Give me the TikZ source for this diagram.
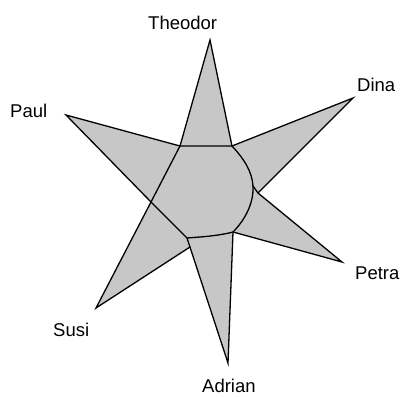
\documentclass[tikz,border=0pt]{standalone}
\usepackage{fontspec}
\setmainfont{Liberation Sans}
\begin{document}
\begin{tikzpicture}[x=1pt,y=-1pt,
  edge/.style={line width=1.3pt, line join=miter, line cap=round},
  shade/.style={fill=black!22},
  lbl/.style={font=\fontsize{18.5}{20}\selectfont, inner sep=0pt, anchor=base west}]
\useasboundingbox (0,0) rectangle (400,397);
% spike tips
\coordinate (TT) at (210,40);
\coordinate (DT) at (353,98);
\coordinate (PeT) at (342,262);
\coordinate (AT) at (228,363);
\coordinate (ST) at (96,308);
\coordinate (PaT) at (66,115);
% central figure
\coordinate (H1) at (180,146);
\coordinate (H2) at (232,146);
\coordinate (H3) at (253,186);
\coordinate (N) at (258,193);
\coordinate (H4) at (233,232);
\coordinate (H5) at (187,238);
\coordinate (X) at (151,202);
\coordinate (SA) at (190,247);
% fills
\fill[shade] (TT) -- (H2) -- (H1) -- cycle;
\fill[shade] (DT) -- (N) -- (H3) -- (H2) -- cycle;
\fill[shade] (PeT) -- (H4) -- (H3) -- (N) -- cycle;
\fill[shade] (AT) -- (H5) -- (H4) -- cycle;
\fill[shade] (ST) -- (X) -- (H5) -- (SA) -- cycle;
\fill[shade] (PaT) -- (H1) -- (X) -- cycle;
\fill[shade] (H1) -- (H2) .. controls (245,160) and (252,172) .. (H3)
  .. controls (254,205) and (243,222) .. (H4)
  .. controls (218,236) and (200,237) .. (H5) -- (X) -- cycle;
% outlines
\draw[edge] (H1) -- (TT) -- (H2);
\draw[edge] (H2) -- (DT) -- (N) -- (H3);
\draw[edge] (N) -- (PeT) -- (H4);
\draw[edge] (H4) -- (AT) -- (H5);
\draw[edge] (SA) -- (ST) -- (X);
\draw[edge] (H1) -- (PaT) -- (X);
\draw[edge] (H1) -- (H2) .. controls (245,160) and (252,172) .. (H3)
  .. controls (254,205) and (243,222) .. (H4)
  .. controls (218,236) and (200,237) .. (H5) -- (X) -- cycle;
% labels
\node[lbl] (theodor) at (148,29) {Theodor};
\node[lbl] (dina) at (357,91) {Dina};
\node[lbl] (paul) at (10,117) {Paul};
\node[lbl] (petra) at (355,279) {Petra};
\node[lbl] (susi) at (53,336) {Susi};
\node[lbl] (adrian) at (202,392) {Adrian};
\end{tikzpicture}
\end{document}
